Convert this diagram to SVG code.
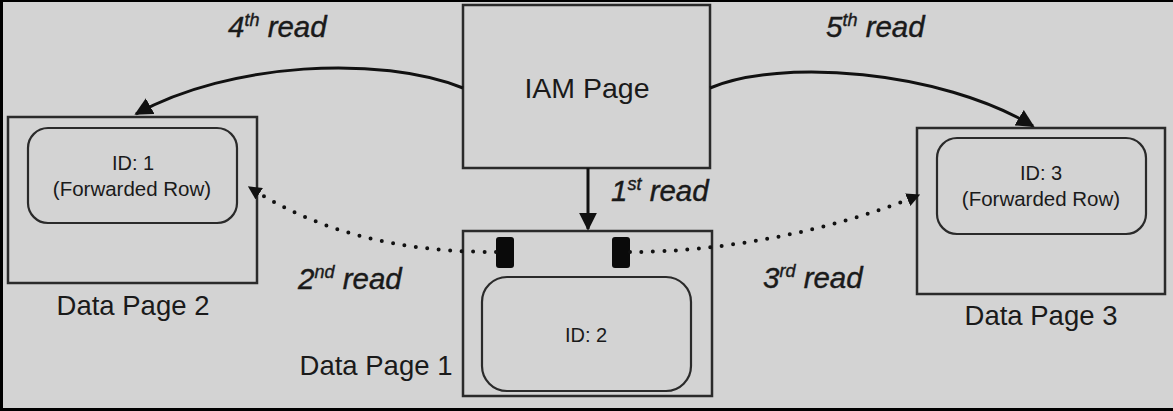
<svg xmlns="http://www.w3.org/2000/svg" width="1173" height="411" viewBox="0 0 1173 411">
<defs>
<style>
.box{fill:#d3d3d3;stroke:#2a2a2a;stroke-width:2.5}
.inner{fill:#d3d3d3;stroke:#2a2a2a;stroke-width:2.2}
.t{font-family:"Liberation Sans",Arial,sans-serif;fill:#1a1a1a;text-anchor:middle}
.lab{font-family:"Liberation Sans",Arial,sans-serif;fill:#1a1a1a;font-style:italic;font-size:29.5px;stroke:#1a1a1a;stroke-width:0.4}
.sup{font-size:18px}
.solid{fill:none;stroke:#111;stroke-width:3}
.dot{fill:none;stroke:#111;stroke-width:4;stroke-linecap:round;stroke-dasharray:0 11.5}
</style>
<marker id="ah" viewBox="0 0 10 10" refX="9" refY="5" markerWidth="6" markerHeight="6" orient="auto" markerUnits="strokeWidth">
<path d="M0,0 L10,5 L0,10 z" fill="#111"/>
</marker>
<marker id="ahd" viewBox="0 0 10 10" refX="9" refY="5" markerWidth="3.4" markerHeight="3.4" orient="auto" markerUnits="strokeWidth">
<path d="M0,0 L10,5 L0,10 z" fill="#111"/>
</marker>
</defs>
<rect x="0" y="0" width="1173" height="411" fill="#000"/>
<rect x="3" y="2" width="1170" height="406" fill="#d3d3d3"/>

<g id="iam">
<rect class="box" x="463" y="5" width="247" height="163"/>
<text class="t" x="587" y="98" font-size="28.5">IAM Page</text>
</g>

<g id="page2">
<rect class="box" x="8" y="117" width="249" height="166"/>
<rect class="inner" x="28" y="128" width="209" height="95" rx="20"/>
<text class="t" x="133" y="170" font-size="20">ID: 1</text>
<text class="t" x="132" y="196" font-size="20.5">(Forwarded Row)</text>
<text class="t" x="133" y="315" font-size="27.5">Data Page 2</text>
</g>

<g id="page1">
<rect class="box" x="463" y="231" width="249" height="165"/>
<rect class="inner" x="482" y="277" width="209" height="114" rx="25"/>
<text class="t" x="586" y="342" font-size="20">ID: 2</text>
<rect x="496" y="237" width="18" height="31" rx="3" fill="#0a0a0a"/>
<rect x="612" y="237" width="18" height="31" rx="3" fill="#0a0a0a"/>
<text class="t" x="376" y="375" font-size="27.5">Data Page 1</text>
</g>

<g id="page3">
<rect class="box" x="917" y="128" width="248" height="166"/>
<rect class="inner" x="937" y="138" width="209" height="96" rx="20"/>
<text class="t" x="1041" y="180" font-size="20">ID: 3</text>
<text class="t" x="1041" y="206" font-size="20.5">(Forwarded Row)</text>
<text class="t" x="1041" y="325" font-size="27.5">Data Page 3</text>
</g>

<g id="connectors">
<path class="solid" d="M588,168 L588,229" marker-end="url(#ah)"/>
<path class="solid" d="M463,88 C380,55 230,62 136,114" marker-end="url(#ah)"/>
<path class="solid" d="M710,88 C780,58 940,70 1033,126" marker-end="url(#ah)"/>
<path class="dot" d="M496,252 C420,252 330,240 249,187" marker-end="url(#ahd)"/>
<path class="dot" d="M630,252 C720,252 830,232 919,195" marker-end="url(#ahd)"/>
</g>

<g id="labels">
<text class="lab" x="228" y="37">4<tspan class="sup" dy="-11">th</tspan><tspan dy="11"> read</tspan></text>
<text class="lab" x="826" y="37">5<tspan class="sup" dy="-11">th</tspan><tspan dy="11"> read</tspan></text>
<text class="lab" x="611" y="201">1<tspan class="sup" dy="-11">st</tspan><tspan dy="11"> read</tspan></text>
<text class="lab" x="298" y="289">2<tspan class="sup" dy="-11">nd</tspan><tspan dy="11"> read</tspan></text>
<text class="lab" x="763" y="288">3<tspan class="sup" dy="-11">rd</tspan><tspan dy="11"> read</tspan></text>
</g>
</svg>
